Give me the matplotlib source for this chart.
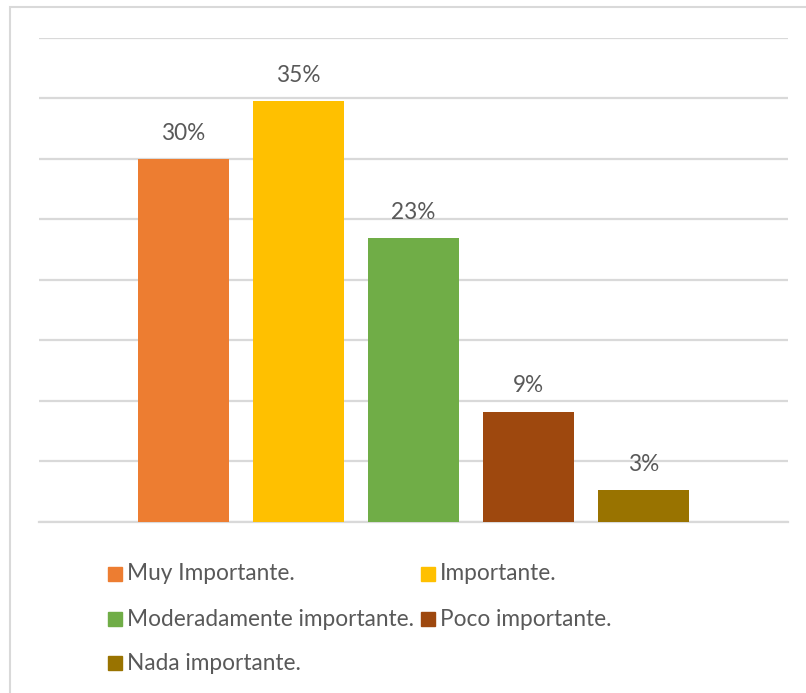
import matplotlib.pyplot as plt
from matplotlib.patches import Rectangle

# data (percent)
categories = ["Muy Importante.", "Importante.", "Moderadamente importante.",
              "Poco importante.", "Nada importante."]
values = [30.0, 34.8, 23.45, 9.1, 2.6]
colors = ["#ED7D31", "#FFC000", "#70AD47", "#9E480E", "#997300"]
y_ticks = [0, 5, 10, 15, 20, 25, 30, 35, 40]

plt.rcParams['font.family'] = ['Lato', 'DejaVu Sans']
text_color = "#595959"
grid_color = "#D9D9D9"

W, H = 806, 693
fig = plt.figure(figsize=(W / 100, H / 100), dpi=100)

# light outer frame like the Excel chart area
fig.add_artist(Rectangle((9.5 / W, -0.1), 1.2, 1.1 - 7.5 / H, transform=fig.transFigure,
                         fill=False, edgecolor=grid_color, linewidth=1.5))

ax = fig.add_axes([39 / W, (H - 521.5) / H, (788 - 39) / W, (521.5 - 38) / H])
x = list(range(len(categories)))
bars = ax.bar(x, values, width=0.79, color=colors, zorder=3)

ax.set_xlim(-1.256, 5.256)
ax.set_ylim(0, 40)
ax.set_yticks(y_ticks)
ax.yaxis.grid(True, color=grid_color, linewidth=1.6, zorder=0)
ax.tick_params(left=False, bottom=False, labelleft=False, labelbottom=False)
for s in ["top", "right", "left"]:
    ax.spines[s].set_visible(False)
ax.spines["bottom"].set_color(grid_color)
ax.spines["bottom"].set_linewidth(1.6)

for b, v in zip(bars, values):
    ax.annotate(f"{v:.0f}%", (b.get_x() + b.get_width() / 2, v),
                xytext=(0, 18.5), textcoords="offset points",
                ha="center", va="center", fontsize=16.3, color=text_color)

# legend laid out row by row, two per row
leg_cols = [108, 421]
leg_rows = [574, 619, 663]
for i, (name, c) in enumerate(zip(categories, colors)):
    lx = leg_cols[i % 2]
    ly = leg_rows[i // 2]
    fig.add_artist(Rectangle((lx / W, (H - ly - 7) / H), 14 / W, 14 / H,
                             transform=fig.transFigure, color=c))
    fig.text((lx + 19) / W, (H - ly) / H, name, ha="left", va="center",
             fontsize=16.3, color=text_color)

fig.savefig("out.png", dpi=100)
